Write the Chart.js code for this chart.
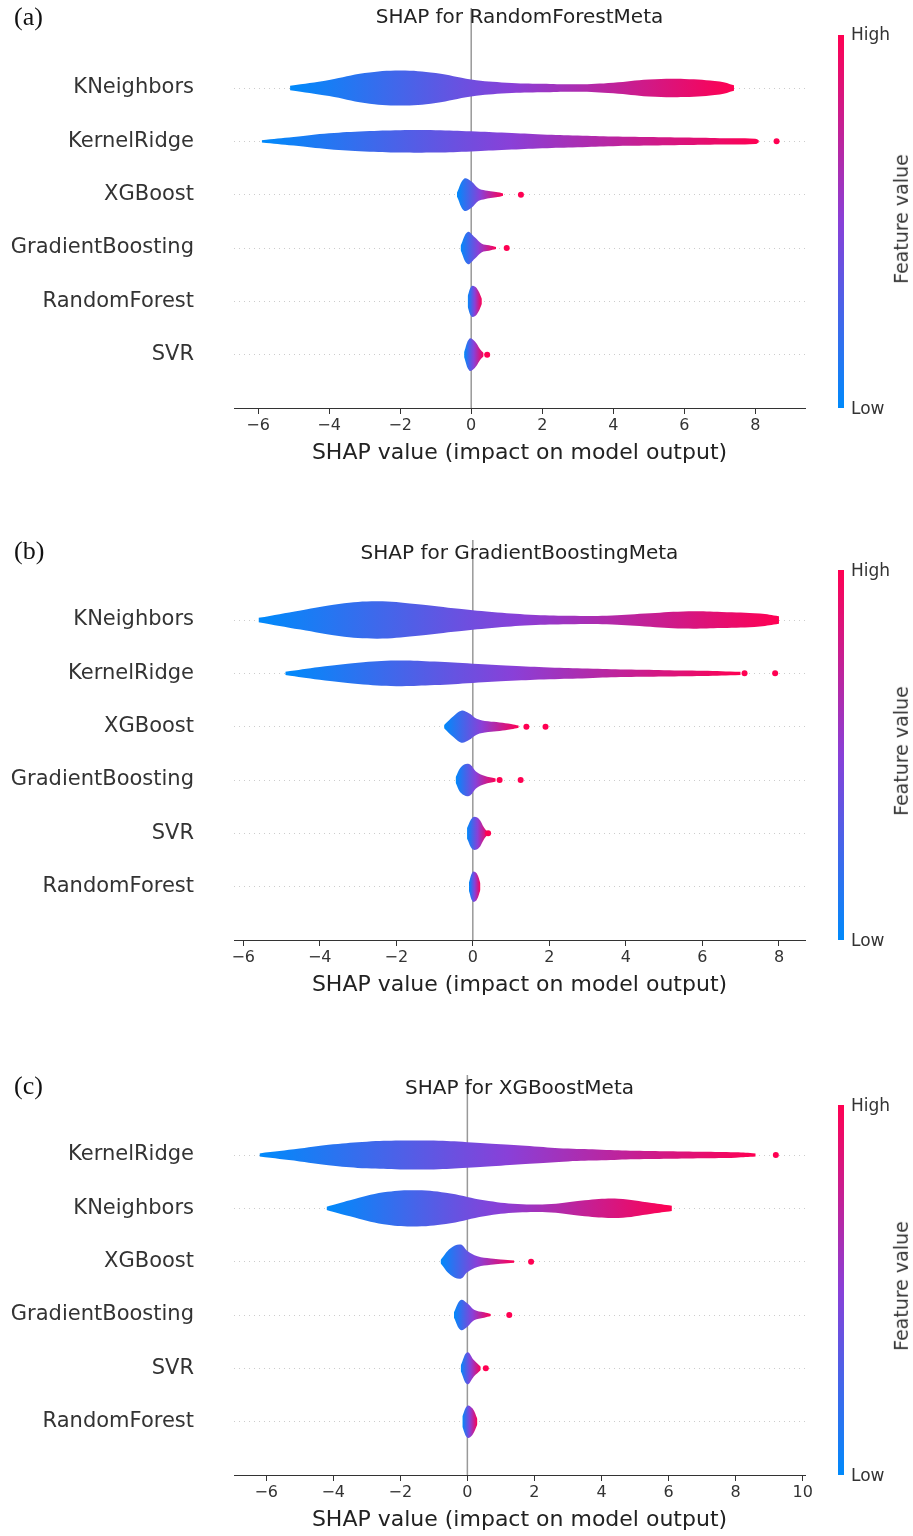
<!DOCTYPE html>
<html><head><meta charset="utf-8">
<script src="https://cdn.jsdelivr.net/npm/chart.js@4.4.0/dist/chart.umd.min.js"></script>
<style>
body{margin:0;background:#fff;width:913px;height:1536px;position:relative;overflow:hidden;font-family:"DejaVu Sans",sans-serif;}
.panel{position:absolute;left:0;width:913px;height:470px;}
.panel canvas{position:absolute;left:0;top:0;}
.tag{position:absolute;left:14px;font-family:"Liberation Serif",serif;font-size:26px;color:#111;}
.title{position:absolute;left:234px;width:571px;text-align:center;font-size:20px;color:#222;}
.cbar{position:absolute;left:838px;width:6px;background:linear-gradient(to top,#008afb,#8940d8 50%,#ff0052);}
.cl{position:absolute;left:851px;font-size:17px;color:#333;}
.fv{position:absolute;font-size:19px;color:#333;transform:rotate(-90deg);transform-origin:center;white-space:nowrap;}
</style></head><body>
<script>
// panel (a) - RandomForestMeta
const A_FEATURES = ['KNeighbors','KernelRidge','XGBoost','GradientBoosting','RandomForest','SVR'];
const A_X = [
  [-5.1,-4,-3,-2,-1,0,1,2,3,4,5,6,7,7.4],
  [-5.9,-5,-4,-3,-2,-1,0,1,2,3,4,5,6,7,8,8.1],
  [-0.4,-0.2,0,0.2,0.4,0.6,0.8,0.9],
  [-0.3,-0.1,0.1,0.3,0.5,0.7],
  [-0.1,0,0.1,0.2,0.3],
  [-0.2,-0.05,0.1,0.25,0.35]
];
const A_W = [
  [0.04,0.15,0.28,0.33,0.28,0.16,0.1,0.08,0.07,0.1,0.16,0.17,0.12,0.05],
  [0.02,0.08,0.15,0.19,0.21,0.21,0.19,0.16,0.13,0.11,0.09,0.08,0.07,0.06,0.05,0.02],
  [0.04,0.3,0.25,0.12,0.08,0.06,0.04,0.02],
  [0.04,0.3,0.2,0.08,0.05,0.02],
  [0.1,0.28,0.28,0.2,0.05],
  [0.05,0.3,0.25,0.1,0.03]
];
const A_OUT = [[], [8.6], [1.4], [1.0], [], [0.45]];
const A_TICKS = [-6,-4,-2,0,2,4,6,8];

// panel (b) - GradientBoostingMeta
const B_FEATURES = ['KNeighbors','KernelRidge','XGBoost','GradientBoosting','SVR','RandomForest'];
const B_X = [
  [-5.6,-4.5,-3.5,-2.5,-1.5,-0.5,0.5,1.5,2.5,3.5,4.5,5.5,6.5,7.5,8.0],
  [-4.9,-4,-3,-2,-1,0,1,2,3,4,5,6,7],
  [-0.75,-0.5,-0.3,-0.1,0.1,0.4,0.7,1.0,1.2],
  [-0.45,-0.3,-0.1,0.1,0.3,0.6],
  [-0.15,0,0.15,0.3,0.4],
  [-0.1,0,0.1,0.2]
];
const B_W = [
  [0.04,0.18,0.3,0.35,0.3,0.22,0.15,0.1,0.08,0.08,0.12,0.16,0.15,0.12,0.07],
  [0.03,0.12,0.2,0.24,0.22,0.18,0.14,0.11,0.09,0.07,0.06,0.05,0.03],
  [0.03,0.2,0.3,0.25,0.15,0.1,0.08,0.05,0.02],
  [0.05,0.25,0.3,0.15,0.08,0.03],
  [0.1,0.3,0.28,0.1,0.02],
  [0.08,0.28,0.25,0.06]
];
const B_OUT = [[], [7.1,7.9], [1.4,1.9], [0.7,1.25], [0.4], []];
const B_TICKS = [-6,-4,-2,0,2,4,6,8];

// panel (c) - XGBoostMeta
const C_FEATURES = ['KernelRidge','KNeighbors','XGBoost','GradientBoosting','SVR','RandomForest'];
const C_X = [
  [-6.2,-5,-4,-3,-2,-1,0,1,2,3,4,5,6,7,8,8.6],
  [-4.2,-3.5,-2.5,-1.5,-0.5,0.5,1.5,2.5,3.5,4.5,5.5,6.1],
  [-0.8,-0.5,-0.2,0,0.3,0.7,1.0,1.4],
  [-0.4,-0.2,0,0.2,0.5,0.7],
  [-0.2,0,0.2,0.4],
  [-0.15,0,0.15,0.3]
];
const C_W = [
  [0.03,0.12,0.2,0.25,0.27,0.27,0.24,0.2,0.16,0.12,0.1,0.08,0.07,0.06,0.05,0.03],
  [0.03,0.15,0.3,0.34,0.28,0.15,0.08,0.08,0.15,0.18,0.1,0.05],
  [0.03,0.25,0.32,0.2,0.1,0.06,0.04,0.02],
  [0.05,0.28,0.22,0.1,0.05,0.02],
  [0.05,0.3,0.15,0.03],
  [0.1,0.3,0.25,0.05]
];
const C_OUT = [[9.2], [], [1.9], [1.25], [0.55], []];
const C_TICKS = [-6,-4,-2,0,2,4,6,8,10];

const PANELS = [
  {tag:'(a)', title:'SHAP for RandomForestMeta', top:0, xmin:-6.68, xmax:9.4, f:A_FEATURES, xs:A_X, ws:A_W, out:A_OUT, ticks:A_TICKS},
  {tag:'(b)', title:'SHAP for GradientBoostingMeta', top:532, xmin:-6.24, xmax:8.68, f:B_FEATURES, xs:B_X, ws:B_W, out:B_OUT, ticks:B_TICKS},
  {tag:'(c)', title:'SHAP for XGBoostMeta', top:1067, xmin:-6.96, xmax:10.07, f:C_FEATURES, xs:C_X, ws:C_W, out:C_OUT, ticks:C_TICKS}
];

function violinFill(xs) {
    return function (context) {
        const chart = context.chart;
        if (!chart.chartArea) return '#8940d8';
        const sx = chart.scales.x;
        const g = chart.ctx.createLinearGradient(sx.getPixelForValue(xs[0]), 0, sx.getPixelForValue(xs[xs.length - 1]), 0);
        g.addColorStop(0, '#008afb');
        g.addColorStop(0.5, '#8940d8');
        g.addColorStop(1, '#ff0052');
        return g;
    };
}

PANELS.forEach(function (p) {
    const div = document.createElement('div');
    div.className = 'panel';
    div.style.top = p.top + 'px';
    div.innerHTML = `<canvas width="913" height="470"></canvas>
      <div class="tag" style="top:${p.top === 0 ? 2 : 4}px">${p.tag}</div>
      <div class="title" style="top:${p.top === 0 ? 4 : 8}px">${p.title}</div>
      <div class="cbar" style="top:${p.top === 0 ? 35 : 38}px;height:${p.top === 0 ? 373 : 370}px"></div>
      <div class="cl" style="top:${p.top === 0 ? 24 : 28}px">High</div>
      <div class="cl" style="top:398px">Low</div>
      <div class="fv" style="left:836px;top:208px">Feature value</div>`;
    document.body.appendChild(div);

    const datasets = [];
    datasets.push({
        type: 'line', data: [{x:0, y:-1.5}, {x:0, y:6}],
        borderColor: '#999', borderWidth: 1.5, pointRadius: 0, order: 10, fill: false
    });
    p.f.forEach(function (name, i) {
        const xs = p.xs[i], ws = p.ws[i];
        datasets.push({
            type: 'line',
            data: xs.map((x, k) => ({x: x, y: i - ws[k]})),
            borderWidth: 0, pointRadius: 0, tension: 0.4,
            fill: '+1', backgroundColor: violinFill(xs), order: 1
        });
        datasets.push({
            type: 'line',
            data: xs.map((x, k) => ({x: x, y: i + ws[k]})),
            borderWidth: 0, pointRadius: 0, tension: 0.4,
            fill: false, backgroundColor: 'rgba(0,0,0,0)', order: 1
        });
        if (p.out[i].length) {
            datasets.push({
                type: 'scatter',
                data: p.out[i].map(x => ({x: x, y: i})),
                pointRadius: 3, pointBackgroundColor: '#ff0052', pointBorderWidth: 0, order: 0
            });
        }
    });

    new Chart(div.querySelector('canvas').getContext('2d'), {
        type: 'line',
        data: {datasets: datasets},
        options: {
            responsive: false,
            animation: false,
            devicePixelRatio: 1,
            layout: {padding: {top: 8, right: 108, left: 0, bottom: 0}},
            plugins: {legend: {display: false}, tooltip: {enabled: false}},
            scales: {
                x: {
                    type: 'linear', min: p.xmin, max: p.xmax,
                    afterBuildTicks: s => { s.ticks = p.ticks.map(v => ({value: v})); },
                    afterFit: s => { s.height = 62; s.paddingLeft = 0; s.paddingRight = 0; },
                    ticks: {font: {family: 'DejaVu Sans', size: 16}, color: '#333', padding: 2,
                            callback: v => (v < 0 ? '\u2212' + Math.abs(v) : String(v))},
                    grid: {drawOnChartArea: false, drawTicks: true, tickLength: 6, color: '#333'},
                    border: {display: true, color: '#333', width: 1},
                    title: {display: true, text: 'SHAP value (impact on model output)',
                            font: {family: 'DejaVu Sans', size: 22}, color: '#222', padding: {top: 0}}
                },
                y: {
                    type: 'linear', min: -1.5, max: 6, reverse: true,
                    afterBuildTicks: s => { s.ticks = p.f.map((n, i) => ({value: i})); },
                    afterFit: s => { s.width = 234; s.paddingTop = 0; s.paddingBottom = 0; },
                    ticks: {font: {family: 'DejaVu Sans', size: 21}, color: '#333', padding: 40,
                            callback: v => p.f[v]},
                    grid: {drawTicks: false, color: '#ccc', lineWidth: 1},
                    border: {display: false, dash: [1, 4]}
                }
            }
        }
    });
});
</script>
</body></html>
